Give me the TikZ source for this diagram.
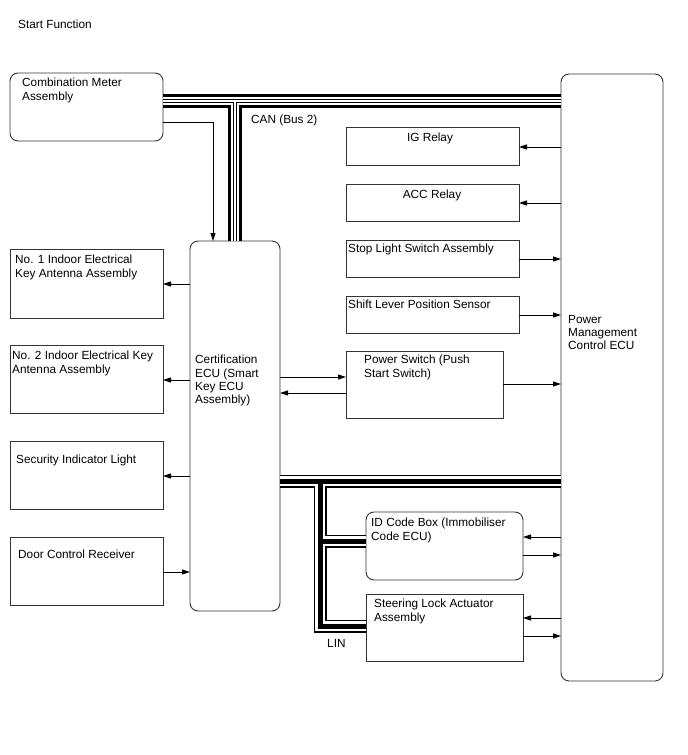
\documentclass[tikz,border=0pt]{standalone}
\usepackage{fontspec}
\setmainfont{Liberation Sans}
\usetikzlibrary{arrows.meta}
\begin{document}
\begin{tikzpicture}[x=1pt,y=-1pt, font=\fontsize{11.8}{13.3}\selectfont,
  box/.style={draw=black!80, line width=0.9pt, anchor=north west, inner sep=0pt, outer sep=0pt},
  rbox/.style={box, rounded corners=8pt},
  txt/.style={anchor=north west, inner sep=0pt, align=left},
  arr/.style={line width=0.9pt, -{Triangle[length=8pt,width=5pt]}},
  canA/.style={line width=14pt, black},
  canB/.style={line width=8.4pt, white},
  canC/.style={line width=4.2pt, black},
  canD/.style={line width=2.2pt, white},
  linA/.style={line width=13pt, black},
  linB/.style={line width=10.6pt, white},
  linC/.style={line width=5pt, black},
]
\useasboundingbox[fill=white] (0,0) rectangle (688,755);

% boxes
\node[rbox, minimum width=153pt, minimum height=68pt] (cm) at (10,73) {};
\node[box, minimum width=153pt, minimum height=69pt] (ant1) at (10,249) {};
\node[box, minimum width=153pt, minimum height=68pt] (ant2) at (10,345) {};
\node[box, minimum width=153pt, minimum height=68pt] (sec) at (10,441) {};
\node[box, minimum width=153pt, minimum height=68pt] (door) at (10,537) {};
\node[rbox, minimum width=90pt, minimum height=370pt] (cert) at (190,241) {};
\node[box, minimum width=173pt, minimum height=38pt] (ig) at (346,127) {};
\node[box, minimum width=173pt, minimum height=37pt] (acc) at (346,184) {};
\node[box, minimum width=173pt, minimum height=37pt] (stop) at (346,240) {};
\node[box, minimum width=173pt, minimum height=37pt] (shift) at (346,296) {};
\node[box, minimum width=157pt, minimum height=67pt] (psw) at (346,351) {};
\node[rbox, minimum width=102pt, minimum height=607pt] (pm) at (561,74) {};
\node[rbox, minimum width=157pt, minimum height=68pt] (id) at (366,512) {};
\node[box, minimum width=157pt, minimum height=67pt] (steer) at (366,594) {};

% CAN bus
\foreach \s in {canA,canB,canC,canD}{
  \draw[\s] (cm.east |- 0,101) -- (pm.west |- 0,101);
  \draw[\s] (235,101) -- (cert.north -| 235,0);
}
% LIN / bottom bus
\foreach \s in {linA,linB,linC}{
  \draw[\s] (cert.east |- 0,481) -- (pm.west |- 0,481);
  \draw[\s] (320,481) -- (320,626) -- (steer.west |- 0,626);
  \draw[\s] (320,541) -- (id.west |- 0,541);
}

% arrows
\draw[arr] (cm.east |- 0,122) -| (cert.north -| 213,0);
\draw[arr] (cert.west |- 0,284) -- (ant1.east |- 0,284);
\draw[arr] (cert.west |- 0,380) -- (ant2.east |- 0,380);
\draw[arr] (cert.west |- 0,476) -- (sec.east |- 0,476);
\draw[arr] (door.east |- 0,572) -- (cert.west |- 0,572);
\draw[arr] (cert.east |- 0,377) -- (psw.west |- 0,377);
\draw[arr] (psw.west |- 0,393) -- (cert.east |- 0,393);
\draw[arr] (psw.east |- 0,384) -- (pm.west |- 0,384);
\draw[arr] (pm.west |- 0,147) -- (ig.east |- 0,147);
\draw[arr] (pm.west |- 0,203) -- (acc.east |- 0,203);
\draw[arr] (stop.east |- 0,259) -- (pm.west |- 0,259);
\draw[arr] (shift.east |- 0,315) -- (pm.west |- 0,315);
\draw[arr] (pm.west |- 0,537) -- (id.east |- 0,537);
\draw[arr] (id.east |- 0,555) -- (pm.west |- 0,555);
\draw[arr] (pm.west |- 0,618) -- (steer.east |- 0,618);
\draw[arr] (steer.east |- 0,636) -- (pm.west |- 0,636);

% texts
\node[txt] (t0) at (18,20) {Start Function};
\node[txt] (tcm) at (22,78) {Combination Meter\\Assembly};
\node[txt] (tcan) at (251,115) {CAN (Bus 2)};
\node[anchor=north, inner sep=0pt] (tig) at (430,133) {IG Relay};
\node[anchor=north, inner sep=0pt] (tacc) at (432,190) {ACC Relay};
\node[txt] (tstop) at (348,244) {Stop Light Switch Assembly};
\node[txt] (tshift) at (348,300) {Shift Lever Position Sensor};
\node[txt] (tpsw) at (364,355) {Power Switch (Push\\Start Switch)};
\node[txt] (tcert) at (195,355) {Certification\\ECU (Smart\\Key ECU\\Assembly)};
\node[txt] (tant1) at (15,255) {No. 1 Indoor Electrical\\Key Antenna Assembly};
\node[txt] (tant2) at (12,351) {No. 2 Indoor Electrical Key\\Antenna Assembly};
\node[txt] (tsec) at (16,455) {Security Indicator Light};
\node[txt] (tdoor) at (18,550) {Door Control Receiver};
\node[txt] (tpm) at (568,315) {Power\\Management\\Control ECU};
\node[txt] (tid) at (371,518) {ID Code Box (Immobiliser\\Code ECU)};
\node[txt] (tsteer) at (374,599) {Steering Lock Actuator\\Assembly};
\node[txt] (tlin) at (327,639) {LIN};
\end{tikzpicture}
\end{document}
